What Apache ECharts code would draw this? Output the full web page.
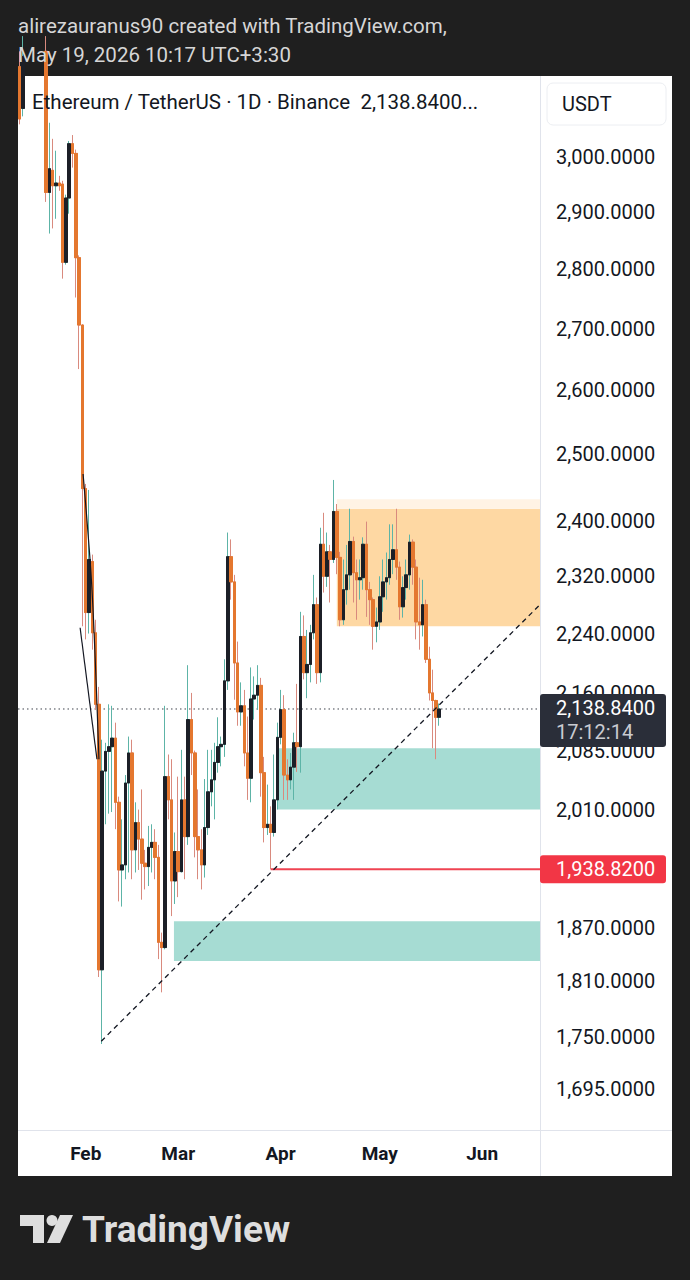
<!DOCTYPE html>
<html><head><meta charset="utf-8">
<script src="https://cdn.jsdelivr.net/npm/echarts@6/dist/echarts.min.js"></script>
<style>
html,body{margin:0;padding:0;background:#1f1f1f;width:690px;height:1280px;overflow:hidden}
#panel{position:absolute;left:18px;top:76px;width:654px;height:1100px;background:#ffffff}
#chart{position:absolute;left:0;top:0;width:690px;height:1280px}
</style></head><body>
<div id="panel"></div><div id="chart"></div>
<script>
// ---------- data ----------
const START_DATE = '2026-01-12';
const N_DAYS = 158; // Jan 12 .. Jun 18
const MONTHS = ['Jan','Feb','Mar','Apr','May','Jun','Jul','Aug','Sep','Oct','Nov','Dec'];
const OPEN  = [3170,3090,null,null,null,null,null,null,3200,2935,2975,2947,2952,2950,2812,2925,3024,3006,2820,2706,
  2448,2269,2341,2241,2145,1823,2059,2084,2090,2101,2020,1938,1944,2044,2082,1962,1995,1975,1946,1942,
  1965,1971,1953,1854,1848,2052,2023,1925,1960,1936,2023,1978,2125,2082,1978,1962,1944,1989,2033,2048,
  2070,2090,2093,2176,2348,2312,2200,2135,2143,2082,2050,2152,2157,2170,2057,1989,1993,1983,2023,2102,
  2138,2054,2048,2064,2095,2090,2236,2187,2198,2241,2280,2187,2366,2320,2355,2344,2414,2347,2259,2301,
  2322,2370,2325,2315,2318,2366,2301,2287,2250,2256,2291,2312,2318,2344,2358,2333,2277,2304,2322,2369,
  2333,2256,2252,2280,2205,2160,2150,2128];
const CLOSE = [3070,3190,null,null,null,null,null,null,2935,2978,2947,2952,2947,2812,2925,3024,3006,2820,2706,2448,
  2269,2344,2241,2145,1823,2059,2084,2090,2101,2020,1938,1944,2044,2082,1962,1995,1975,1946,1942,1965,
  1971,1953,1854,1848,2052,2023,1925,1960,1936,2023,1978,2125,2082,1978,1962,1944,1989,2033,2048,2070,
  2090,2093,2176,2348,2312,2200,2135,2143,2082,2050,2152,2157,2170,2057,1989,1993,1983,2023,2102,2138,
  2054,2048,2064,2095,2090,2236,2187,2198,2241,2280,2187,2366,2320,2355,2344,2414,2347,2259,2301,2322,
  2370,2325,2315,2318,2366,2301,2287,2250,2256,2291,2312,2318,2344,2358,2333,2277,2304,2322,2369,2333,
  2256,2252,2280,2205,2160,2150,2128,2138.84];
const LOW   = [3060,3075,null,null,null,null,null,null,2918,2862,2871,2888,2938,2784,2808,2897,2980,2752,2634,2250,
  2232,2240,2218,2138,1815,1742,1993,2006,2008,1987,1901,1895,1927,1935,1927,1935,1938,1903,1915,1919,
  1935,1927,1835,1798,1846,1999,1884,1898,1906,1935,1927,1968,2054,1953,1927,1915,1929,1980,2015,1999,
  2057,2065,2077,2164,2287,2151,2117,2117,2065,2023,2020,2125,2138,2027,1971,1980,1938.82,1978,2011,2093,
  2023,2023,2036,2023,2058,2057,2178,2153,2174,2232,2172,2174,2297,2305,2283,2339,2323,2250,2252,2280,
  2301,2283,2259,2287,2301,2263,2252,2218,2228,2245,2270,2287,2308,2323,2315,2259,2262,2287,2301,2308,
  2232,2218,2236,2200,2150,2088,2074,2117];
const HIGH  = [3200,3230,null,null,null,null,null,null,3230,3063,3033,3011,2965,2956,2931,3029,3040,3013,2824,2707,
  2455,2446,2351,2259,2168,2099,2095,2145,2143,2121,2027,1999,2054,2103,2099,2020,2011,2036,1962,1991,
  1993,1987,1968,1865,2143,2080,2074,1983,2052,2086,2052,2197,2160,2085,2036,1987,2049,2086,2086,2095,
  2128,2103,2205,2383,2373,2322,2229,2174,2164,2129,2194,2182,2197,2180,2077,2042,2015,2080,2121,2164,
  2157,2074,2082,2108,2172,2270,2265,2245,2252,2322,2290,2390,2412,2383,2365,2461,2425,2355,2344,2365,
  2418,2377,2344,2344,2376,2399,2312,2290,2276,2320,2344,2354,2395,2395,2418,2341,2320,2344,2380,2373,
  2344,2318,2315,2287,2222,2191,2151,2146];
const PRICE_TICKS = [3000,2900,2800,2700,2600,2500,2400,2320,2240,2160,2085,2010,1870,1810,1750,1695];
const PRICE_MIN = 1652.6, PRICE_MAX = 3152;
const LAST_PRICE = 2138.84, LAST_TIME = '17:12:14';
const LEVEL_PRICE = 1938.82, LEVEL_START_DAY = 76;
const TREND_LINE = [[24.7, 1745], [157.5, 2280]];
const ZONE_START = [96, 96, 78.2, 46.7];
const ZONE_LOW   = [2250, 2418, 2011, 1833];
const ZONE_HIGH  = [2418, 2432, 2088, 1878];
const DRAW_A = [[19.2, 2470], [21.9, 2301], [24.0, 2074]];
const DRAW_B = [[18.3, 2248], [23.4, 2074]];
const HEADER = ['alirezauranus90 created with TradingView.com,', 'May 19, 2026 10:17 UTC+3:30'];
const LEGEND = 'Ethereum / TetherUS · 1D · Binance  2,138.8400...';

// ---------- styles ----------
const ZONE_COLORS = ['#fed8a3', '#fff3e4', '#a6dcd3', '#a6dcd3'];
const UP_BODY = '#1c1f27', DOWN_BODY = '#e4772f', UP_WICK = '#5db4a7', DOWN_WICK = '#d98a7e';
const FONT = 'Roboto, "Noto Sans", sans-serif';

// ---------- build ----------
const L = Math.log;
const dates = [];
{
  const d0 = new Date(START_DATE + 'T00:00:00Z');
  for (let i = 0; i < N_DAYS; i++) {
    const d = new Date(d0.getTime() + i * 86400000);
    dates.push(d.toISOString().slice(0, 10));
  }
}
const empty = ['-', '-', '-', '-'];
const wickData = OPEN.map((o, i) => o == null ? empty : [L(o), L(CLOSE[i]), L(LOW[i]), L(HIGH[i])]);
const bodyData = OPEN.map((o, i) => o == null ? empty : [L(o), L(CLOSE[i]), L(Math.min(o, CLOSE[i])), L(Math.max(o, CLOSE[i]))]);
const XMAX = N_DAYS - 0.5;
const zoneData = ZONE_START.map((s, i) => [s, XMAX, L(ZONE_LOW[i]), L(ZONE_HIGH[i]), i]);
const toLn = pts => pts.map(p => [p[0], L(p[1])]);
const fmt = v => v.toLocaleString('en-US', {minimumFractionDigits: 4, maximumFractionDigits: 4});

const chart = echarts.init(document.getElementById('chart'), null, {renderer: 'svg', width: 690, height: 1280});
chart.setOption({
  animation: false,
  backgroundColor: 'transparent',
  grid: {left: 18, top: 76, width: 522, height: 1054, containLabel: false},
  xAxis: [{
    type: 'category', data: dates, boundaryGap: true,
    axisLine: {show: false}, axisTick: {show: false}, splitLine: {show: false},
    axisLabel: {
      interval: (idx, val) => val.slice(8) === '01' && val.slice(5, 7) !== '01',
      formatter: val => MONTHS[+val.slice(5, 7) - 1],
      color: '#131722', fontSize: 19, fontWeight: 'bold', fontFamily: FONT, margin: 14
    }
  }, {
    type: 'value', min: -0.5, max: XMAX, show: false
  }],
  yAxis: [{
    type: 'value', position: 'right', min: L(PRICE_MIN), max: L(PRICE_MAX),
    axisLine: {show: false}, axisTick: {show: false}, splitLine: {show: false},
    axisLabel: {
      customValues: PRICE_TICKS.map(L),
      formatter: v => fmt(Math.round(Math.exp(v) * 100) / 100),
      color: '#131722', fontSize: 20, fontFamily: FONT, margin: 16
    }
  }],
  series: [
    {
      type: 'custom', xAxisIndex: 1, yAxisIndex: 0, z: 1, silent: true, clip: true,
      data: zoneData,
      renderItem: (params, api) => {
        const p1 = api.coord([api.value(0), api.value(3)]);
        const p2 = api.coord([api.value(1), api.value(2)]);
        return {type: 'rect', shape: {x: p1[0], y: p1[1], width: p2[0] - p1[0], height: p2[1] - p1[1]},
          style: {fill: ZONE_COLORS[api.value(4)]}};
      }
    },
    {
      type: 'line', xAxisIndex: 1, yAxisIndex: 0, z: 2, symbol: 'none', silent: true,
      data: [[-0.5, L(LAST_PRICE)], [XMAX, L(LAST_PRICE)]],
      lineStyle: {color: '#3f424c', width: 1, type: [1.5, 3]}
    },
    {
      type: 'candlestick', xAxisIndex: 0, yAxisIndex: 0, z: 3, barWidth: 3, data: wickData,
      itemStyle: {color: UP_BODY, color0: DOWN_BODY, borderColor: UP_WICK, borderColor0: DOWN_WICK, borderWidth: 1}
    },
    {
      type: 'candlestick', xAxisIndex: 0, yAxisIndex: 0, z: 4, barWidth: 3, data: bodyData,
      itemStyle: {color: UP_BODY, color0: DOWN_BODY, borderColor: UP_BODY, borderColor0: DOWN_BODY, borderWidth: 1}
    },
    {
      type: 'line', xAxisIndex: 1, yAxisIndex: 0, z: 5, symbol: 'none', silent: true,
      data: [[LEVEL_START_DAY, L(LEVEL_PRICE)], [XMAX, L(LEVEL_PRICE)]],
      lineStyle: {color: '#ef4352', width: 2}
    },
    {
      type: 'line', xAxisIndex: 1, yAxisIndex: 0, z: 5, symbol: 'none', silent: true,
      data: toLn(TREND_LINE), lineStyle: {color: '#131722', width: 1.3, type: [5, 4]}
    },
    {
      type: 'line', xAxisIndex: 1, yAxisIndex: 0, z: 5, symbol: 'none', silent: true, smooth: 0.3,
      data: toLn(DRAW_A), lineStyle: {color: '#131722', width: 1.2}
    },
    {
      type: 'line', xAxisIndex: 1, yAxisIndex: 0, z: 5, symbol: 'none', silent: true,
      data: toLn(DRAW_B), lineStyle: {color: '#131722', width: 1.2}
    }
  ]
});

const yLast = chart.convertToPixel({yAxisIndex: 0}, L(LAST_PRICE));
const yLevel = chart.convertToPixel({yAxisIndex: 0}, L(LEVEL_PRICE));
const LOGO = '#dedede';
chart.setOption({
  graphic: [
    {type: 'line', z: 50, shape: {x1: 540.5, y1: 76, x2: 540.5, y2: 1176}, style: {stroke: '#e0e3eb', lineWidth: 1}},
    {type: 'line', z: 50, shape: {x1: 18, y1: 1130.5, x2: 672, y2: 1130.5}, style: {stroke: '#e0e3eb', lineWidth: 1}},
    {type: 'text', z: 60, x: 18, y: 26, style: {text: HEADER[0], font: '20.5px ' + FONT, fill: '#d6d6d6', verticalAlign: 'middle'}},
    {type: 'text', z: 60, x: 18, y: 55, style: {text: HEADER[1], font: '20.5px ' + FONT, fill: '#d6d6d6', verticalAlign: 'middle'}},
    {type: 'text', z: 60, x: 32, y: 102, style: {text: LEGEND, font: '20.5px ' + FONT, fill: '#131722', verticalAlign: 'middle'}},
    {type: 'rect', z: 60, shape: {x: 547, y: 83, width: 119, height: 42, r: 6}, style: {fill: '#ffffff', stroke: '#eceef2', lineWidth: 1}},
    {type: 'text', z: 61, x: 562, y: 104, style: {text: 'USDT', font: '20px ' + FONT, fill: '#131722', verticalAlign: 'middle'}},
    {type: 'rect', z: 60, shape: {x: 540, y: yLast - 15, width: 126, height: 53, r: 3}, style: {fill: '#2a2e39'}},
    {type: 'text', z: 61, x: 556, y: yLast - 1, style: {text: fmt(LAST_PRICE), font: '20px ' + FONT, fill: '#ffffff', verticalAlign: 'middle'}},
    {type: 'text', z: 61, x: 556, y: yLast + 23, style: {text: LAST_TIME, font: '20px ' + FONT, fill: '#c9cbd1', verticalAlign: 'middle'}},
    {type: 'rect', z: 60, shape: {x: 540, y: yLevel - 14, width: 126, height: 28, r: 3}, style: {fill: '#f23645'}},
    {type: 'text', z: 61, x: 556, y: yLevel, style: {text: fmt(LEVEL_PRICE), font: '20px ' + FONT, fill: '#ffffff', verticalAlign: 'middle'}},
    {type: 'polygon', z: 60, shape: {points: [[20,1215],[44,1215],[44,1243],[33,1243],[33,1226],[20,1226]]}, style: {fill: LOGO}},
    {type: 'circle', z: 60, shape: {cx: 52, cy: 1220.5, r: 5.5}, style: {fill: LOGO}},
    {type: 'polygon', z: 60, shape: {points: [[60,1215],[73,1215],[60,1243],[47,1243]]}, style: {fill: LOGO}},
    {type: 'text', z: 60, x: 82, y: 1229, style: {text: 'TradingView', font: 'bold 37px ' + FONT, fill: LOGO, verticalAlign: 'middle'}}
  ]
});
</script>
</body></html>
